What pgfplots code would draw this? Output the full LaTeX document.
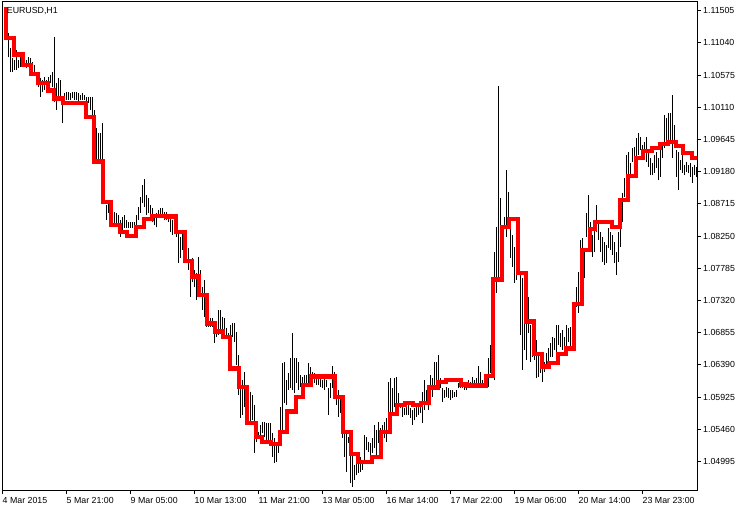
\documentclass[border=0pt]{standalone}
\usepackage{fontspec}
\setmainfont{Liberation Sans}
\usepackage{pgfplots}
\usepackage{pgfplotstable}
\pgfplotsset{compat=1.18}

% hourly bars: bar number, low, high
\pgfplotstableread{
n lo hi
1 1.1118 1.1152
2 1.1108 1.1137
3 1.1083 1.1118
4 1.1062 1.1097
5 1.1062 1.1082
6 1.1065 1.1079
7 1.1065 1.1094
8 1.1068 1.1079
9 1.1069 1.1084
10 1.1072 1.1082
11 1.1069 1.1082
12 1.1068 1.1079
13 1.1069 1.1084
14 1.1065 1.1082
15 1.1062 1.1076
16 1.1058 1.1072
17 1.1053 1.1062
18 1.1040 1.1058
19 1.1026 1.1053
20 1.1033 1.1050
21 1.1036 1.1055
22 1.1039 1.1050
23 1.1040 1.1055
24 1.1046 1.1058
25 1.1040 1.1062
26 1.1019 1.1113
27 1.1007 1.1046
28 1.1026 1.1053
29 1.1022 1.1050
30 1.0988 1.1026
31 1.1022 1.1032
32 1.1022 1.1033
33 1.1022 1.1033
34 1.1022 1.1032
35 1.1024 1.1033
36 1.1022 1.1033
37 1.1022 1.1033
38 1.1019 1.1032
39 1.1022 1.1029
40 1.1022 1.1032
41 1.1022 1.1029
42 1.1017 1.1026
43 1.1017 1.1026
44 1.1007 1.1026
45 1.0997 1.1026
46 1.0971 1.1007
47 1.0932 1.0981
48 1.0932 1.0974
49 1.0935 1.0974
50 1.0932 1.0988
51 1.0873 1.0906
52 1.0848 1.0870
53 1.0858 1.0877
54 1.0863 1.0873
55 1.0848 1.0867
56 1.0844 1.0860
57 1.0838 1.0858
58 1.0837 1.0856
59 1.0824 1.0848
60 1.0830 1.0853
61 1.0837 1.0856
62 1.0837 1.0848
63 1.0837 1.0845
64 1.0837 1.0845
65 1.0837 1.0845
66 1.0837 1.0845
67 1.0837 1.0856
68 1.0848 1.0867
69 1.0858 1.0882
70 1.0873 1.0899
71 1.0867 1.0907
72 1.0856 1.0884
73 1.0858 1.0880
74 1.0856 1.0870
75 1.0845 1.0866
76 1.0841 1.0856
77 1.0838 1.0858
78 1.0851 1.0863
79 1.0856 1.0866
80 1.0856 1.0866
81 1.0848 1.0860
82 1.0848 1.0860
83 1.0845 1.0853
84 1.0831 1.0851
85 1.0827 1.0848
86 1.0830 1.0844
87 1.0824 1.0834
88 1.0786 1.0834
89 1.0793 1.0824
90 1.0805 1.0830
91 1.0795 1.0819
92 1.0795 1.0824
93 1.0776 1.0808
94 1.0737 1.0791
95 1.0759 1.0793
96 1.0752 1.0776
97 1.0733 1.0772
98 1.0744 1.0795
99 1.0752 1.0776
100 1.0718 1.0752
101 1.0708 1.0762
102 1.0694 1.0723
103 1.0694 1.0718
104 1.0694 1.0707
105 1.0694 1.0707
106 1.0671 1.0701
107 1.0679 1.0701
108 1.0682 1.0718
109 1.0687 1.0718
110 1.0685 1.0708
111 1.0682 1.0707
112 1.0679 1.0692
113 1.0665 1.0685
114 1.0656 1.0697
115 1.0679 1.0699
116 1.0672 1.0699
117 1.0639 1.0687
118 1.0596 1.0653
119 1.0562 1.0617
120 1.0567 1.0617
121 1.0578 1.0629
122 1.0578 1.0607
123 1.0570 1.0610
124 1.0557 1.0600
125 1.0559 1.0596
126 1.0512 1.0581
127 1.0528 1.0548
128 1.0533 1.0542
129 1.0535 1.0552
130 1.0541 1.0557
131 1.0535 1.0557
132 1.0531 1.0555
133 1.0531 1.0555
134 1.0526 1.0555
135 1.0506 1.0541
136 1.0497 1.0533
137 1.0499 1.0526
138 1.0512 1.0535
139 1.0535 1.0578
140 1.0541 1.0642
141 1.0584 1.0643
142 1.0581 1.0617
143 1.0603 1.0627
144 1.0606 1.0649
145 1.0603 1.0685
146 1.0598 1.0649
147 1.0613 1.0649
148 1.0603 1.0643
149 1.0607 1.0624
150 1.0600 1.0622
151 1.0607 1.0624
152 1.0610 1.0624
153 1.0613 1.0642
154 1.0617 1.0636
155 1.0620 1.0629
156 1.0613 1.0627
157 1.0610 1.0622
158 1.0610 1.0620
159 1.0607 1.0622
160 1.0606 1.0617
161 1.0603 1.0622
162 1.0607 1.0617
163 1.0567 1.0606
164 1.0591 1.0613
165 1.0606 1.0637
166 1.0607 1.0629
167 1.0581 1.0617
168 1.0564 1.0603
169 1.0570 1.0593
170 1.0533 1.0578
171 1.0506 1.0542
172 1.0484 1.0541
173 1.0526 1.0535
174 1.0468 1.0516
175 1.0463 1.0512
176 1.0473 1.0494
177 1.0480 1.0502
178 1.0483 1.0505
179 1.0484 1.0506
180 1.0487 1.0497
181 1.0502 1.0538
182 1.0516 1.0535
183 1.0513 1.0528
184 1.0509 1.0526
185 1.0512 1.0533
186 1.0519 1.0552
187 1.0506 1.0545
188 1.0526 1.0557
189 1.0509 1.0548
190 1.0531 1.0552
191 1.0533 1.0557
192 1.0528 1.0562
193 1.0542 1.0614
194 1.0567 1.0620
195 1.0570 1.0606
196 1.0578 1.0620
197 1.0581 1.0622
198 1.0581 1.0598
199 1.0577 1.0584
200 1.0564 1.0578
201 1.0567 1.0577
202 1.0567 1.0578
203 1.0567 1.0584
204 1.0562 1.0577
205 1.0552 1.0574
206 1.0559 1.0577
207 1.0564 1.0578
208 1.0567 1.0578
209 1.0570 1.0584
210 1.0555 1.0600
211 1.0574 1.0617
212 1.0581 1.0603
213 1.0574 1.0610
214 1.0584 1.0624
215 1.0593 1.0620
216 1.0607 1.0643
217 1.0613 1.0643
218 1.0614 1.0653
219 1.0606 1.0620
220 1.0585 1.0606
221 1.0591 1.0603
222 1.0593 1.0607
223 1.0591 1.0606
224 1.0588 1.0603
225 1.0591 1.0603
226 1.0593 1.0600
227 1.0593 1.0603
228 1.0606 1.0613
229 1.0606 1.0617
230 1.0606 1.0614
231 1.0603 1.0614
232 1.0603 1.0613
233 1.0606 1.0617
234 1.0606 1.0614
235 1.0606 1.0622
236 1.0606 1.0617
237 1.0606 1.0620
238 1.0610 1.0637
239 1.0607 1.0629
240 1.0606 1.0617
241 1.0606 1.0617
242 1.0606 1.0614
243 1.0607 1.0649
244 1.0627 1.0668
245 1.0632 1.0694
246 1.0617 1.0802
247 1.0743 1.0838
248 1.0766 1.1042
249 1.0801 1.0880
250 1.0801 1.0838
251 1.0838 1.0853
252 1.0824 1.0921
253 1.0844 1.0889
254 1.0793 1.0838
255 1.0780 1.0827
256 1.0757 1.0809
257 1.0762 1.0809
258 1.0773 1.0805
259 1.0682 1.0773
260 1.0632 1.0764
261 1.0661 1.0714
262 1.0646 1.0704
263 1.0685 1.0737
264 1.0643 1.0697
265 1.0650 1.0704
266 1.0646 1.0678
267 1.0620 1.0675
268 1.0622 1.0656
269 1.0627 1.0658
270 1.0614 1.0650
271 1.0629 1.0643
272 1.0636 1.0656
273 1.0643 1.0663
274 1.0650 1.0671
275 1.0650 1.0679
276 1.0661 1.0678
277 1.0656 1.0697
278 1.0668 1.0697
279 1.0665 1.0685
280 1.0661 1.0689
281 1.0661 1.0679
282 1.0665 1.0697
283 1.0672 1.0692
284 1.0665 1.0694
285 1.0679 1.0718
286 1.0694 1.0728
287 1.0723 1.0752
288 1.0714 1.0773
289 1.0752 1.0819
290 1.0776 1.0822
291 1.0764 1.0808
292 1.0824 1.0858
293 1.0830 1.0884
294 1.0817 1.0845
295 1.0795 1.0827
296 1.0802 1.0841
297 1.0831 1.0870
298 1.0819 1.0845
299 1.0802 1.0831
300 1.0788 1.0824
301 1.0783 1.0817
302 1.0786 1.0812
303 1.0808 1.0837
304 1.0805 1.0831
305 1.0798 1.0827
306 1.0786 1.0817
307 1.0769 1.0802
308 1.0788 1.0831
309 1.0809 1.0870
310 1.0845 1.0887
311 1.0882 1.0909
312 1.0894 1.0942
313 1.0903 1.0946
314 1.0909 1.0931
315 1.0932 1.0952
316 1.0938 1.0954
317 1.0939 1.0967
318 1.0942 1.0974
319 1.0949 1.0968
320 1.0949 1.0957
321 1.0945 1.0961
322 1.0932 1.0968
323 1.0925 1.0946
324 1.0913 1.0938
325 1.0913 1.0931
326 1.0916 1.0942
327 1.0923 1.0946
328 1.0906 1.0938
329 1.0910 1.0954
330 1.0938 1.0961
331 1.0952 1.1000
332 1.0959 1.0996
333 1.0961 1.1003
334 1.0964 1.1003
335 1.0938 1.1029
336 1.0952 1.0986
337 1.0910 1.0949
338 1.0892 1.0946
339 1.0921 1.0935
340 1.0916 1.0945
341 1.0913 1.0928
342 1.0918 1.0932
343 1.0916 1.0928
344 1.0910 1.0931
345 1.0902 1.0925
346 1.0913 1.0928
347 1.0910 1.0925
}\bars

\begin{document}
\begin{tikzpicture}
\useasboundingbox (0,0) rectangle (750bp,511bp);
\begin{axis}[
    at={(2bp,21bp)}, anchor=south west,
    scale only axis,
    width=695bp, height=488bp,
    xmin=0, xmax=347.5,
    ymin=1.045834, ymax=1.116306,
    axis line style={line width=1bp},
    tick style={black, line width=1bp},
    tick align=outside,
    major tick length=4bp,
    xtick pos=bottom, ytick pos=right,
    yticklabel pos=right,
    xtick={0,32,...,320},
    xticklabels={4 Mar 2015, 5 Mar 21:00, 9 Mar 05:00, 10 Mar 13:00,
        11 Mar 21:00, 13 Mar 05:00, 16 Mar 14:00, 17 Mar 22:00,
        19 Mar 06:00, 20 Mar 14:00, 23 Mar 23:00},
    ytick={1.04995,1.05460,1.05925,1.06390,1.06855,1.07320,1.07785,1.08250,
        1.08715,1.09180,1.09645,1.10110,1.10575,1.11040,1.11505},
    yticklabels={1.04995,1.05460,1.05925,1.06390,1.06855,1.07320,1.07785,1.08250,
        1.08715,1.09180,1.09645,1.10110,1.10575,1.11040,1.11505},
    tick label style={font=\fontsize{8.8bp}{10bp}\selectfont, inner sep=0pt},
    xticklabel style={anchor=north west, xshift=0.5bp, yshift=-3bp},
    yticklabel style={anchor=west, xshift=2bp},
]
\addplot[draw=none, mark=none, forget plot,
    error bars/.cd, y dir=plus, y explicit, error mark=none,
    error bar style={draw=black, line width=1bp}]
    table[x=n, y=lo, y error expr=\thisrow{hi}-\thisrow{lo}] {\bars};

\addplot[const plot, red, line width=4.5bp] coordinates {
    (1,1.1152) (2,1.1111) (6,1.1087) (10.5,1.1072) (14.5,1.1059) (18,1.1046)
    (23,1.1035) (26,1.1024) (30.5,1.1017) (42,1.0997) (46,1.0933) (50.5,1.0874)
    (54.5,1.0841) (59,1.0831) (62.5,1.0825) (67,1.0838) (71,1.0850) (75,1.0854)
    (82,1.0853) (87,1.0831) (91.5,1.0789) (95,1.0767) (98.5,1.0740) (102.5,1.0699)
    (106.5,1.0687) (110.5,1.0679) (114,1.0634) (118.5,1.0607) (122.5,1.0555)
    (127,1.0535) (130,1.0528) (134.5,1.0525) (139,1.0542) (142.5,1.0572)
    (147,1.0593) (150.5,1.0610) (154.5,1.0622) (166.5,1.0593) (170.5,1.0542)
    (174.5,1.0510) (178,1.0499) (185,1.0506) (189.5,1.0542) (194,1.0568)
    (197.5,1.0581) (201.5,1.0584) (205.5,1.0581) (209.5,1.0584) (213.5,1.0606)
    (218,1.0614) (222,1.0617) (229.5,1.0611) (232.5,1.0609) (242,1.0623)
    (245.5,1.0762) (250,1.0838) (253.5,1.0850) (258,1.0772) (262,1.0702)
    (266,1.0655) (270,1.0637) (273.5,1.0642) (278,1.0655) (282,1.0663)
    (286,1.0727) (290,1.0805) (294,1.0835) (296.5,1.0845) (305,1.0838)
    (309,1.0877) (313,1.0912) (317,1.0938) (320.5,1.0948) (325,1.0952)
    (329,1.0958) (333,1.0961) (337,1.0955) (340.5,1.0945) (345,1.0938)
    (347.5,1.0938)
};

\node[anchor=base west, inner sep=0pt, xshift=4.7bp, yshift=-11.3bp,
    font=\fontsize{8.8bp}{10bp}\selectfont] at (rel axis cs:0,1) {EURUSD,H1};
\end{axis}
\end{tikzpicture}
\end{document}
